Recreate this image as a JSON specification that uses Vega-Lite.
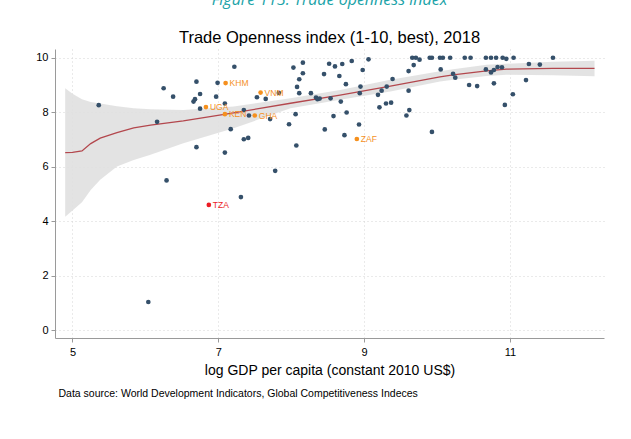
{
  "$schema": "https://vega.github.io/schema/vega-lite/v6.json",
  "description": "Trade Openness index vs log GDP per capita, 2018, with lowess fit and CI band.",
  "autosize": "none",
  "width": 549,
  "height": 289,
  "padding": {"left": 55, "top": 49, "right": 27, "bottom": 101},
  "background": "white",
  "title": {
    "text": "Figure 113: Trade openness index",
    "subtitle": "Trade Openness index (1-10, best), 2018",
    "anchor": "middle",
    "frame": "group",
    "font": "Open Sans",
    "fontStyle": "italic",
    "fontWeight": "normal",
    "fontSize": 16,
    "color": "#1aa3a8",
    "subtitleFont": "Liberation Sans",
    "subtitleFontSize": 16.5,
    "subtitleColor": "#000000",
    "subtitlePadding": 22,
    "offset": 3
  },
  "datasets": {
    "fit": [
      {"gdp": 4.90, "lo": 4.17, "fit": 6.52, "hi": 8.88},
      {"gdp": 5.00, "lo": 4.40, "fit": 6.53, "hi": 8.68},
      {"gdp": 5.13, "lo": 4.70, "fit": 6.58, "hi": 8.48},
      {"gdp": 5.25, "lo": 5.15, "fit": 6.85, "hi": 8.38},
      {"gdp": 5.38, "lo": 5.52, "fit": 7.05, "hi": 8.32},
      {"gdp": 5.61, "lo": 6.01, "fit": 7.25, "hi": 8.22},
      {"gdp": 5.84, "lo": 6.25, "fit": 7.43, "hi": 8.15},
      {"gdp": 6.07, "lo": 6.44, "fit": 7.53, "hi": 8.11},
      {"gdp": 6.52, "lo": 6.86, "fit": 7.68, "hi": 8.08},
      {"gdp": 7.21, "lo": 7.41, "fit": 7.98, "hi": 8.21},
      {"gdp": 7.99, "lo": 8.15, "fit": 8.33, "hi": 8.51},
      {"gdp": 8.67, "lo": 8.46, "fit": 8.63, "hi": 8.82},
      {"gdp": 9.36, "lo": 8.76, "fit": 8.96, "hi": 9.19},
      {"gdp": 10.04, "lo": 9.13, "fit": 9.30, "hi": 9.50},
      {"gdp": 10.22, "lo": 9.19, "fit": 9.37, "hi": 9.58},
      {"gdp": 10.68, "lo": 9.33, "fit": 9.52, "hi": 9.74},
      {"gdp": 10.95, "lo": 9.38, "fit": 9.58, "hi": 9.78},
      {"gdp": 11.59, "lo": 9.36, "fit": 9.61, "hi": 9.85},
      {"gdp": 12.16, "lo": 9.32, "fit": 9.61, "hi": 9.89}
    ],
    "countries": [
      {"gdp": 5.36, "toi": 8.26, "iso": "", "grp": "other"},
      {"gdp": 6.16, "toi": 7.65, "iso": "", "grp": "other"},
      {"gdp": 6.25, "toi": 8.88, "iso": "", "grp": "other"},
      {"gdp": 6.29, "toi": 5.50, "iso": "", "grp": "other"},
      {"gdp": 6.04, "toi": 1.04, "iso": "", "grp": "other"},
      {"gdp": 6.38, "toi": 8.57, "iso": "", "grp": "other"},
      {"gdp": 6.70, "toi": 9.12, "iso": "", "grp": "other"},
      {"gdp": 6.75, "toi": 8.67, "iso": "", "grp": "other"},
      {"gdp": 6.68, "toi": 8.48, "iso": "", "grp": "other"},
      {"gdp": 6.66, "toi": 8.39, "iso": "", "grp": "other"},
      {"gdp": 6.75, "toi": 8.13, "iso": "", "grp": "other"},
      {"gdp": 6.70, "toi": 6.72, "iso": "", "grp": "other"},
      {"gdp": 6.99, "toi": 9.08, "iso": "", "grp": "other"},
      {"gdp": 6.97, "toi": 8.57, "iso": "", "grp": "other"},
      {"gdp": 7.09, "toi": 8.32, "iso": "", "grp": "other"},
      {"gdp": 7.09, "toi": 6.52, "iso": "", "grp": "other"},
      {"gdp": 7.22, "toi": 9.67, "iso": "", "grp": "other"},
      {"gdp": 7.17, "toi": 7.38, "iso": "", "grp": "other"},
      {"gdp": 7.35, "toi": 8.08, "iso": "", "grp": "other"},
      {"gdp": 7.42, "toi": 7.88, "iso": "", "grp": "other"},
      {"gdp": 7.35, "toi": 7.01, "iso": "", "grp": "other"},
      {"gdp": 7.41, "toi": 7.06, "iso": "", "grp": "other"},
      {"gdp": 7.31, "toi": 4.89, "iso": "", "grp": "other"},
      {"gdp": 7.53, "toi": 8.55, "iso": "", "grp": "other"},
      {"gdp": 7.65, "toi": 8.49, "iso": "", "grp": "other"},
      {"gdp": 7.71, "toi": 7.75, "iso": "", "grp": "other"},
      {"gdp": 7.83, "toi": 8.71, "iso": "", "grp": "other"},
      {"gdp": 7.78, "toi": 5.85, "iso": "", "grp": "other"},
      {"gdp": 7.97, "toi": 7.56, "iso": "", "grp": "other"},
      {"gdp": 8.03, "toi": 9.64, "iso": "", "grp": "other"},
      {"gdp": 8.06, "toi": 7.93, "iso": "", "grp": "other"},
      {"gdp": 8.07, "toi": 6.78, "iso": "", "grp": "other"},
      {"gdp": 8.08, "toi": 8.93, "iso": "", "grp": "other"},
      {"gdp": 8.11, "toi": 8.70, "iso": "", "grp": "other"},
      {"gdp": 8.11, "toi": 9.21, "iso": "", "grp": "other"},
      {"gdp": 8.16, "toi": 9.43, "iso": "", "grp": "other"},
      {"gdp": 8.16, "toi": 9.82, "iso": "", "grp": "other"},
      {"gdp": 8.27, "toi": 8.70, "iso": "", "grp": "other"},
      {"gdp": 8.34, "toi": 8.54, "iso": "", "grp": "other"},
      {"gdp": 8.36, "toi": 8.48, "iso": "", "grp": "other"},
      {"gdp": 8.39, "toi": 8.50, "iso": "", "grp": "other"},
      {"gdp": 8.45, "toi": 9.40, "iso": "", "grp": "other"},
      {"gdp": 8.46, "toi": 7.37, "iso": "", "grp": "other"},
      {"gdp": 8.52, "toi": 9.78, "iso": "", "grp": "other"},
      {"gdp": 8.60, "toi": 9.68, "iso": "", "grp": "other"},
      {"gdp": 8.54, "toi": 8.51, "iso": "", "grp": "other"},
      {"gdp": 8.58, "toi": 7.86, "iso": "", "grp": "other"},
      {"gdp": 8.66, "toi": 9.33, "iso": "", "grp": "other"},
      {"gdp": 8.68, "toi": 8.39, "iso": "", "grp": "other"},
      {"gdp": 8.70, "toi": 9.77, "iso": "", "grp": "other"},
      {"gdp": 8.73, "toi": 7.16, "iso": "", "grp": "other"},
      {"gdp": 8.75, "toi": 9.03, "iso": "", "grp": "other"},
      {"gdp": 8.76, "toi": 7.99, "iso": "", "grp": "other"},
      {"gdp": 8.83, "toi": 9.88, "iso": "", "grp": "other"},
      {"gdp": 8.93, "toi": 7.55, "iso": "", "grp": "other"},
      {"gdp": 8.95, "toi": 8.94, "iso": "", "grp": "other"},
      {"gdp": 8.94, "toi": 8.70, "iso": "", "grp": "other"},
      {"gdp": 8.98, "toi": 9.55, "iso": "", "grp": "other"},
      {"gdp": 9.06, "toi": 9.94, "iso": "", "grp": "other"},
      {"gdp": 9.19, "toi": 8.64, "iso": "", "grp": "other"},
      {"gdp": 9.24, "toi": 8.79, "iso": "", "grp": "other"},
      {"gdp": 9.31, "toi": 8.94, "iso": "", "grp": "other"},
      {"gdp": 9.39, "toi": 9.22, "iso": "", "grp": "other"},
      {"gdp": 9.21, "toi": 8.18, "iso": "", "grp": "other"},
      {"gdp": 9.30, "toi": 8.32, "iso": "", "grp": "other"},
      {"gdp": 9.37, "toi": 8.35, "iso": "", "grp": "other"},
      {"gdp": 9.61, "toi": 9.51, "iso": "", "grp": "other"},
      {"gdp": 9.61, "toi": 8.79, "iso": "", "grp": "other"},
      {"gdp": 9.62, "toi": 8.08, "iso": "", "grp": "other"},
      {"gdp": 9.58, "toi": 7.88, "iso": "", "grp": "other"},
      {"gdp": 9.68, "toi": 9.73, "iso": "", "grp": "other"},
      {"gdp": 9.66, "toi": 10.0, "iso": "", "grp": "other"},
      {"gdp": 9.71, "toi": 10.0, "iso": "", "grp": "other"},
      {"gdp": 9.76, "toi": 9.93, "iso": "", "grp": "other"},
      {"gdp": 9.90, "toi": 10.0, "iso": "", "grp": "other"},
      {"gdp": 9.93, "toi": 10.0, "iso": "", "grp": "other"},
      {"gdp": 9.93, "toi": 7.28, "iso": "", "grp": "other"},
      {"gdp": 10.04, "toi": 10.0, "iso": "", "grp": "other"},
      {"gdp": 10.08, "toi": 10.0, "iso": "", "grp": "other"},
      {"gdp": 10.05, "toi": 9.57, "iso": "", "grp": "other"},
      {"gdp": 10.18, "toi": 10.0, "iso": "", "grp": "other"},
      {"gdp": 10.22, "toi": 9.41, "iso": "", "grp": "other"},
      {"gdp": 10.25, "toi": 9.27, "iso": "", "grp": "other"},
      {"gdp": 10.38, "toi": 10.0, "iso": "", "grp": "other"},
      {"gdp": 10.46, "toi": 10.0, "iso": "", "grp": "other"},
      {"gdp": 10.44, "toi": 9.00, "iso": "", "grp": "other"},
      {"gdp": 10.55, "toi": 8.96, "iso": "", "grp": "other"},
      {"gdp": 10.67, "toi": 10.0, "iso": "", "grp": "other"},
      {"gdp": 10.74, "toi": 10.0, "iso": "", "grp": "other"},
      {"gdp": 10.81, "toi": 10.0, "iso": "", "grp": "other"},
      {"gdp": 10.67, "toi": 9.57, "iso": "", "grp": "other"},
      {"gdp": 10.74, "toi": 9.46, "iso": "", "grp": "other"},
      {"gdp": 10.78, "toi": 9.55, "iso": "", "grp": "other"},
      {"gdp": 10.83, "toi": 9.66, "iso": "", "grp": "other"},
      {"gdp": 10.89, "toi": 9.65, "iso": "", "grp": "other"},
      {"gdp": 10.78, "toi": 9.06, "iso": "", "grp": "other"},
      {"gdp": 10.90, "toi": 10.0, "iso": "", "grp": "other"},
      {"gdp": 10.95, "toi": 9.96, "iso": "", "grp": "other"},
      {"gdp": 10.93, "toi": 8.27, "iso": "", "grp": "other"},
      {"gdp": 11.04, "toi": 8.66, "iso": "", "grp": "other"},
      {"gdp": 11.05, "toi": 10.0, "iso": "", "grp": "other"},
      {"gdp": 11.22, "toi": 9.18, "iso": "", "grp": "other"},
      {"gdp": 11.26, "toi": 9.77, "iso": "", "grp": "other"},
      {"gdp": 11.41, "toi": 9.75, "iso": "", "grp": "other"},
      {"gdp": 11.59, "toi": 10.0, "iso": "", "grp": "other"},
      {"gdp": 7.10, "toi": 9.07, "iso": "KHM", "grp": "peer"},
      {"gdp": 6.83, "toi": 8.19, "iso": "UGA", "grp": "peer"},
      {"gdp": 7.09, "toi": 7.93, "iso": "KEN", "grp": "peer"},
      {"gdp": 7.50, "toi": 7.88, "iso": "GHA", "grp": "peer"},
      {"gdp": 7.58, "toi": 8.72, "iso": "VNM", "grp": "peer"},
      {"gdp": 8.90, "toi": 7.02, "iso": "ZAF", "grp": "peer"},
      {"gdp": 6.87, "toi": 4.60, "iso": "TZA", "grp": "tza"}
    ]
  },
  "config": {
    "view": {"stroke": null},
    "font": "Liberation Sans",
    "axis": {
      "domainColor": "#9a9a9a",
      "tickColor": "#9a9a9a",
      "tickSize": 4,
      "labelColor": "#000000",
      "labelFont": "Liberation Sans",
      "labelFontSize": 11,
      "gridColor": "#d4d4d4",
      "gridDash": [1, 3],
      "gridWidth": 1
    }
  },
  "resolve": {"axis": {"x": "independent"}},
  "layer": [
    {
      "data": {"name": "fit"},
      "mark": {"type": "area", "color": "#e0e0e0", "opacity": 0.9},
      "encoding": {
        "x": {
          "field": "gdp", "type": "quantitative",
          "scale": {"domain": [4.76, 12.29], "nice": false, "zero": false},
          "axis": {
            "orient": "bottom",
            "values": [5, 7, 9, 11],
            "grid": true,
            "labelPadding": 4,
            "title": "log GDP per capita (constant 2010 US$)",
            "titleFont": "Liberation Sans",
            "titleFontSize": 14,
            "titleFontWeight": "normal",
            "titleColor": "#000000",
            "titlePadding": 6
          }
        },
        "y": {
          "field": "lo", "type": "quantitative",
          "scale": {"domain": [-0.28, 10.32], "nice": false, "zero": false},
          "axis": {
            "values": [0, 2, 4, 6, 8, 10],
            "grid": true,
            "title": null,
            "labelPadding": 3
          }
        },
        "y2": {"field": "hi"}
      }
    },
    {
      "data": {"name": "fit"},
      "mark": {"type": "line", "color": "#b3474d", "strokeWidth": 1.3},
      "encoding": {
        "x": {
          "field": "gdp", "type": "quantitative",
          "axis": {
            "orient": "bottom",
            "labels": false,
            "ticks": false,
            "domain": false,
            "grid": false,
            "title": "Data source: World Development Indicators, Global Competitiveness Indeces",
            "titleFont": "Liberation Sans",
            "titleFontSize": 10.5,
            "titleFontWeight": "normal",
            "titleColor": "#000000",
            "titleAnchor": "start",
            "titleAlign": "left",
            "titleX": 3,
            "titleY": 55,
            "titleBaseline": "middle"
          }
        },
        "y": {"field": "fit", "type": "quantitative"}
      }
    },
    {
      "data": {"name": "countries"},
      "mark": {"type": "circle", "size": 22, "opacity": 1},
      "encoding": {
        "x": {"field": "gdp", "type": "quantitative", "axis": null},
        "y": {"field": "toi", "type": "quantitative"},
        "color": {
          "field": "grp", "type": "nominal", "legend": null,
          "scale": {"domain": ["other", "peer", "tza"], "range": ["#35506a", "#f5901e", "#ec1c24"]}
        }
      }
    },
    {
      "data": {"name": "countries"},
      "mark": {"type": "text", "align": "left", "baseline": "middle", "dx": 4, "fontSize": 8.5, "font": "Liberation Sans"},
      "encoding": {
        "x": {"field": "gdp", "type": "quantitative", "axis": null},
        "y": {"field": "toi", "type": "quantitative"},
        "text": {"field": "iso"},
        "color": {"field": "grp", "type": "nominal", "legend": null}
      }
    }
  ]
}
